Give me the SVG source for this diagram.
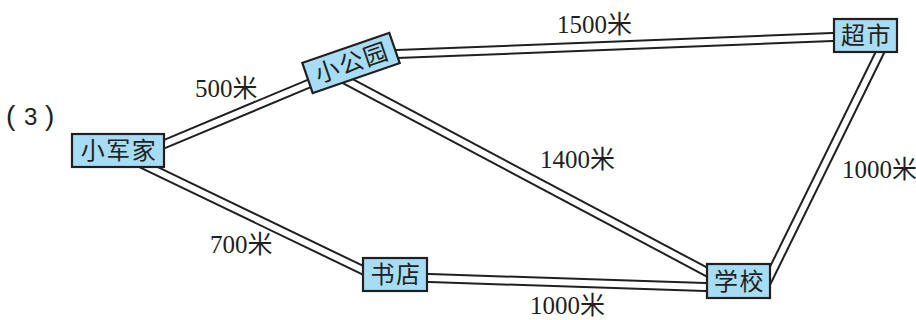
<svg xmlns="http://www.w3.org/2000/svg" width="916" height="320" viewBox="0 0 916 320">
<style>
.road-o{fill:none;stroke:#231f20;stroke-width:10;stroke-linecap:butt}
.road-i{fill:none;stroke:#ffffff;stroke-width:6;stroke-linecap:butt}
.box{fill:#a6dcf4;stroke:#231f20;stroke-width:2.2}
.name{font-family:"Noto Sans CJK SC","Noto Sans",sans-serif;font-size:24px;fill:#231f20;text-anchor:middle;letter-spacing:1.5px}
.dist{font-family:"Liberation Serif","Noto Sans CJK SC",serif;font-size:25px;fill:#231f20}
.num{font-family:"Liberation Sans","Noto Sans",sans-serif;font-size:28px;fill:#231f20}
</style>
<rect width="916" height="320" fill="#ffffff"/>
<g id="connectors">
  <g id="road-jia-gongyuan"><path class="road-o" d="M155,148 L320,79"/><path class="road-i" d="M155,148 L320,79"/></g>
  <g id="road-gongyuan-chaoshi"><path class="road-o" d="M390,54.3 L845,36.6"/><path class="road-i" d="M390,54.3 L845,36.6"/></g>
  <g id="road-gongyuan-xuexiao"><path class="road-o" d="M340,77 L720,279"/><path class="road-i" d="M340,77 L720,279"/></g>
  <g id="road-jia-shudian"><path class="road-o" d="M138,162 L375,276"/><path class="road-i" d="M138,162 L375,276"/></g>
  <g id="road-shudian-xuexiao"><path class="road-o" d="M415,277.6 L720,287.4"/><path class="road-i" d="M415,277.6 L720,287.4"/></g>
  <g id="road-chaoshi-xuexiao"><path class="road-o" d="M885,42 L765,286"/><path class="road-i" d="M885,42 L765,286"/></g>
</g>
<g id="labels">
  <text class="num" y="125"><tspan x="6">(</tspan><tspan x="24" font-size="24px">3</tspan><tspan x="45">)</tspan></text>
  <text class="dist" x="195" y="97">500米</text>
  <text class="dist" x="557" y="33">1500米</text>
  <text class="dist" x="540" y="168">1400米</text>
  <text class="dist" x="842" y="178">1000米</text>
  <text class="dist" x="210" y="253">700米</text>
  <text class="dist" x="530" y="314">1000米</text>
</g>
<g id="node-xiaojunjia">
  <rect class="box" x="72" y="134" width="92" height="33"/>
  <text class="name" x="119" y="159">小军家</text>
</g>
<g id="node-xiaogongyuan" transform="translate(351,63) rotate(-19)">
  <rect class="box" x="-46" y="-16" width="92" height="32"/>
  <text class="name" x="1" y="8.5">小公园</text>
</g>
<g id="node-chaoshi">
  <rect class="box" x="834" y="19" width="63" height="33"/>
  <text class="name" x="866.5" y="44">超市</text>
</g>
<g id="node-shudian">
  <rect class="box" x="363" y="258" width="64" height="33"/>
  <text class="name" x="396" y="283">书店</text>
</g>
<g id="node-xuexiao">
  <rect class="box" x="707" y="264" width="63" height="34"/>
  <text class="name" x="739.5" y="289.5">学校</text>
</g>
</svg>
